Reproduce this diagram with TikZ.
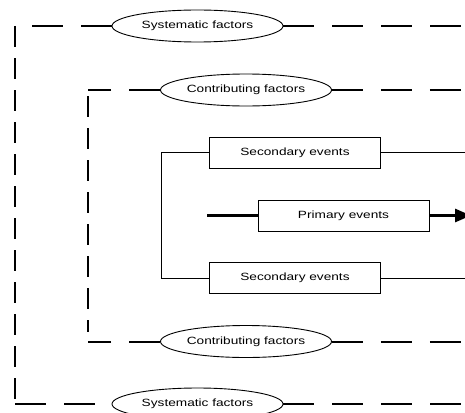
\documentclass[tikz,border=0pt]{standalone}
\usepackage{fontspec}
\usepackage{tikz}
\usetikzlibrary{shapes.geometric, arrows.meta, positioning, calc}
\newfontfamily\diagfont[FakeStretch=1.3]{Liberation Sans}

\begin{document}
\begin{tikzpicture}[
        x=1pt, y=-1pt,
        factor/.style={ellipse, draw, line width=0.9pt, minimum width=171pt, minimum height=32pt, inner sep=0pt, font=\diagfont\fontsize{10.5}{12}\selectfont},
        eventbox/.style={rectangle, draw, line width=0.9pt, minimum width=171pt, minimum height=31pt, inner sep=0pt, font=\diagfont\fontsize{10.5}{12}\selectfont},
        hdash/.style={line width=2pt, dash pattern=on 31pt off 18pt},
        vdash/.style={line width=2pt, dash pattern=on 21pt off 11pt},
        link/.style={line width=0.9pt},
        flow/.style={line width=3pt}
    ]
    \useasboundingbox (0,0) rectangle (465,412);

    % Factors
    \node[factor] (systop) at (197.5, 26) {Systematic factors};
    \node[factor] (contop) at (246, 90) {Contributing factors};
    \node[factor] (conbot) at (246, 341.5) {Contributing factors};
    \node[factor] (sysbot) at (197.5, 404) {Systematic factors};

    % Events
    \node[eventbox] (sectop) at (295, 152.5) {Secondary events};
    \node[eventbox] (prim) at (343.5, 215.5) {Primary events};
    \node[eventbox] (secbot) at (295, 278) {Secondary events};

    % Free ends
    \coordinate (outertl) at (15, 26);
    \coordinate (outerbl) at (15, 404);
    \coordinate (innertl) at (88, 90);
    \coordinate (innerbl) at (88, 332);
    \coordinate (innerfoot) at (88, 341.5);
    \coordinate (systopend) at (465, 26);
    \coordinate (sysbotend) at (465, 404);
    \coordinate (contopend) at (465, 90);
    \coordinate (conbotend) at (465, 341.5);
    \coordinate (bracket) at (161, 152.5);
    \coordinate (sectopend) at (465, 152.5);
    \coordinate (secbotend) at (465, 278);
    \coordinate (primin) at (207, 215.5);
    \coordinate (primout) at (471, 215.5);

    % Systematic boundary
    \draw[hdash] (systop.west) -- (outertl);
    \draw[vdash] (outertl) -- (outerbl);
    \draw[hdash] (outerbl) -- (sysbot.west);
    \draw[hdash] (systop.east) -- (systopend);
    \draw[hdash] (sysbot.east) -- (sysbotend);

    % Contributing boundary
    \draw[hdash] (contop.west) -- (innertl);
    \draw[vdash, dash phase=26pt] (innertl) -- (innerbl);
    \draw[hdash] (conbot.west) -- (innerfoot);
    \draw[hdash] (contop.east) -- (contopend);
    \draw[hdash] (conbot.east) -- (conbotend);

    % Secondary events
    \draw[link] (sectop.west) -- (bracket) |- (secbot.west);
    \draw[link] (sectop.east) -- (sectopend);
    \draw[link] (secbot.east) -- (secbotend);

    % Primary events
    \draw[flow] (primin) -- (prim.west);
    \draw[flow, -{Triangle[length=16pt, width=13pt]}] (prim.east) -- (primout);

\end{tikzpicture}
\end{document}
